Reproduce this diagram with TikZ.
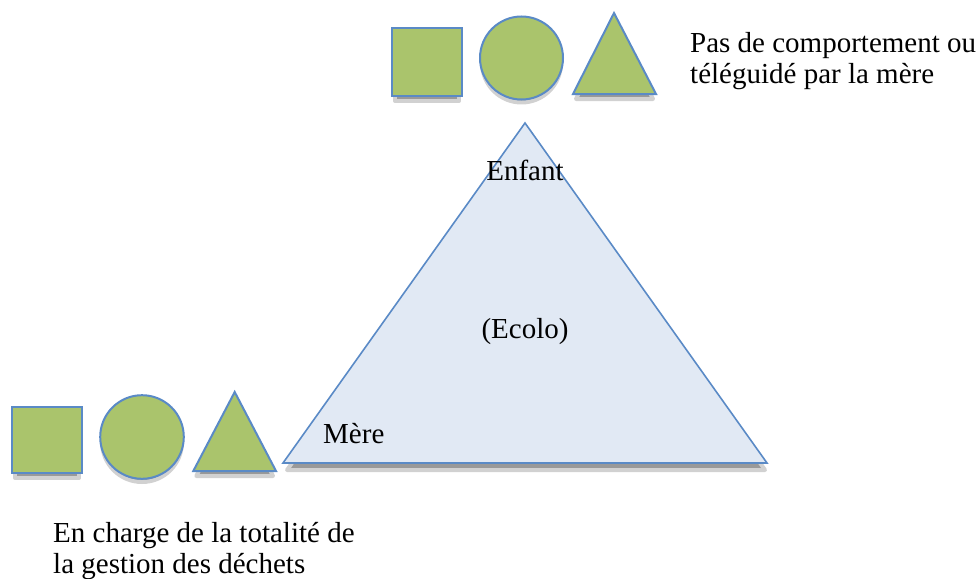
\documentclass[tikz,border=0pt]{standalone}
\usepackage{fontspec}
\setmainfont{Liberation Serif}
\usepackage{tikz}
\definecolor{shapegreen}{HTML}{AAC46C}
\definecolor{edgeblue}{HTML}{5A8AC6}
\definecolor{paleblue}{HTML}{E1E9F4}

\tikzset{
    shade band/.style={fill=black!40, draw=black!18, line width=4pt, line join=round},
    token/.style={fill=shapegreen, draw=edgeblue, line width=2pt},
    caption/.style={font=\fontsize{29}{31}\selectfont, inner sep=0pt}
}

\begin{document}
\begin{tikzpicture}[x=1pt, y=-1pt]
    \useasboundingbox (0, 0) rectangle (979, 578);
    % shadows
    \draw [shade band] (529, 131) -- (765, 470) -- (287, 470) -- cycle;
    \draw [shade band] (395, 34) rectangle (459, 101);
    \draw [shade band] (521.5, 63) circle [radius=39.5pt];
    \draw [shade band] (614, 19) -- (653, 99) -- (576, 99) -- cycle;
    \draw [shade band] (15, 413) rectangle (79, 478);
    \draw [shade band] (142, 442) circle [radius=40pt];
    \draw [shade band] (234.7, 398) -- (273, 476) -- (196.3, 476) -- cycle;
    % big triangle
    \draw [fill=paleblue, draw=edgeblue, line width=1.6pt] (525, 123) -- (767, 463) -- (283, 463) -- cycle;
    % shapes of the child
    \draw [token] (392, 28) rectangle (462, 96);
    \draw [token] (521.5, 58) circle [radius=41.5pt];
    \draw [token] (614, 13) -- (656, 94) -- (573, 94) -- cycle;
    % shapes of the mother
    \draw [token] (12, 407) rectangle (82, 473);
    \draw [token] (142, 437) circle [radius=41.8pt];
    \draw [token] (234.7, 392) -- (276, 471) -- (193.3, 471) -- cycle;
    % labels
    \node[caption, anchor=base] (child) at (525, 180) {Enfant};
    \node[caption, anchor=base] (ecolo) at (525, 338) {(Ecolo)};
    \node[caption, anchor=base west] (mother) at (323, 443) {Mère};
    \node[caption, anchor=base west, align=left] (childnote) at (690, 83) {Pas de comportement ou\\téléguidé par la mère};
    \node[caption, anchor=base west, align=left] (mothernote) at (53, 573) {En charge de la totalité de\\la gestion des déchets};
\end{tikzpicture}
\end{document}
